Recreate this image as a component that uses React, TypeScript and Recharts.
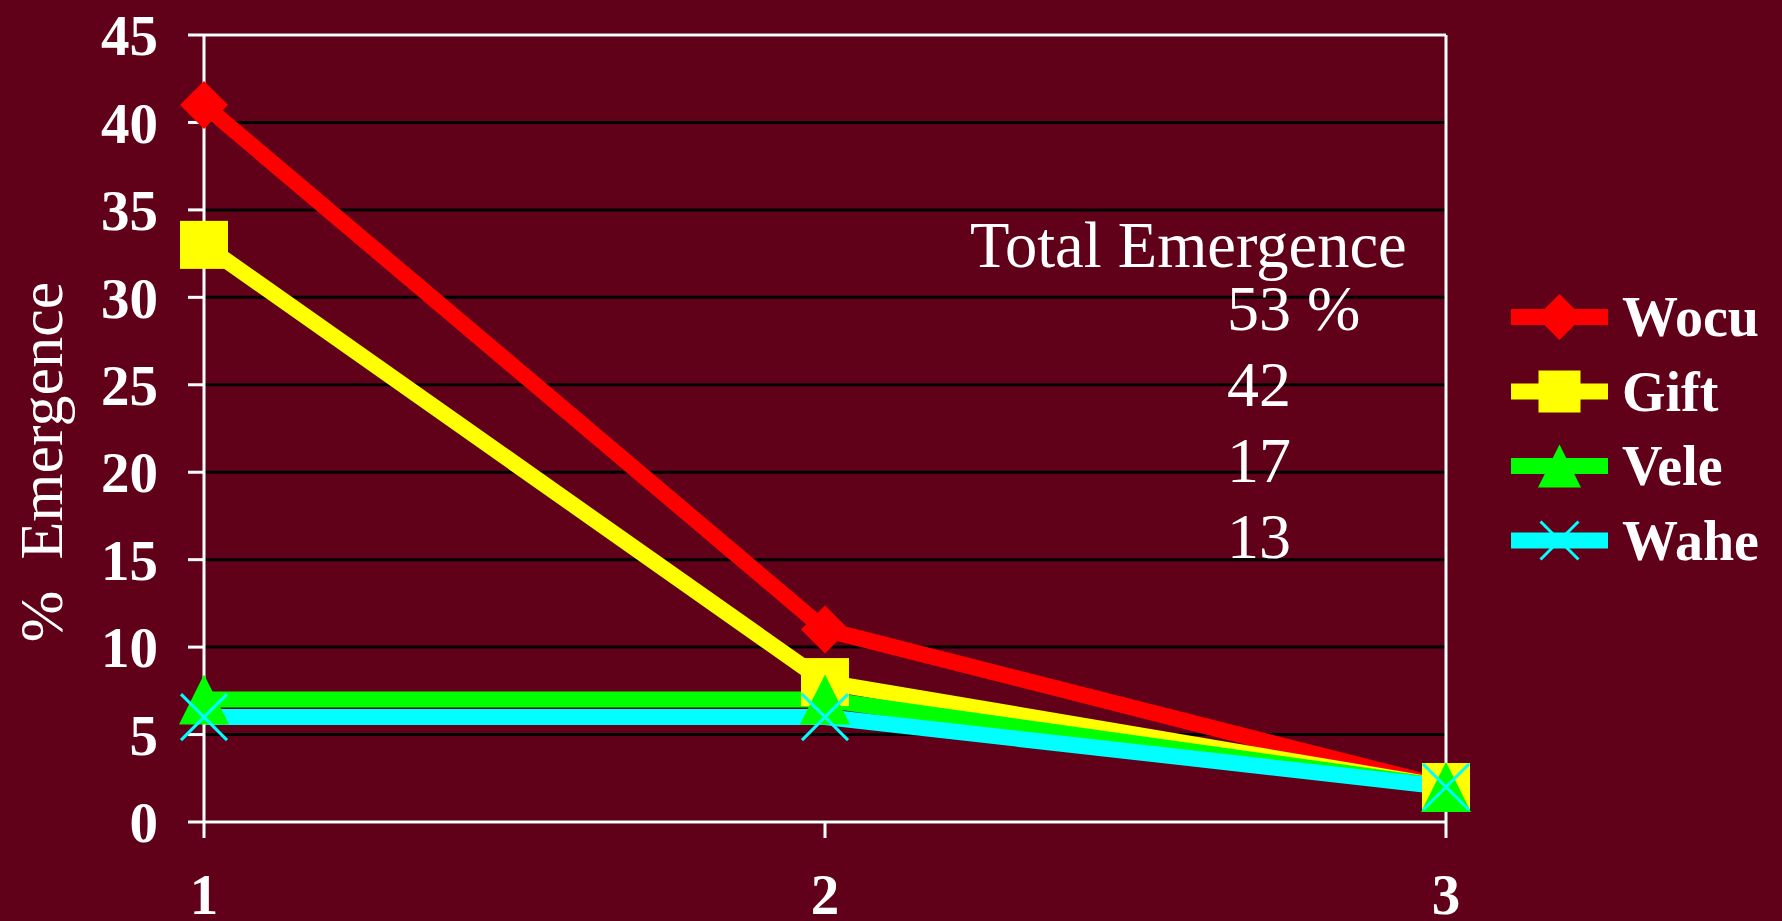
import React from 'react';
import {
  LineChart,
  Line,
  XAxis,
  YAxis,
  CartesianGrid,
  ReferenceLine,
  Legend,
  Customized,
} from 'recharts';

// Emergence per observation, by variety
const periods = ['1', '2', '3'];
const wocu = [41, 11, 2];
const gift = [33, 8, 2];
const vele = [7, 7, 2];
const wahe = [6, 6, 2];
const yTicks = [0, 5, 10, 15, 20, 25, 30, 35, 40, 45];
const totalTitle = 'Total Emergence';
const totals = ['53 %', '42', '17', '13'];
const yLabel = '%  Emergence';

const BG = '#600019';
const FONT = "'Liberation Serif', 'Times New Roman', serif";

type Shape = 'diamond' | 'square' | 'triangle' | 'cross';

const series: { key: string; color: string; shape: Shape; values: number[] }[] = [
  { key: 'Wocu', color: '#FF0000', shape: 'diamond', values: wocu },
  { key: 'Gift', color: '#FFFF00', shape: 'square', values: gift },
  { key: 'Vele', color: '#00FF00', shape: 'triangle', values: vele },
  { key: 'Wahe', color: '#00FFFF', shape: 'cross', values: wahe },
];

const data = periods.map((p, i) => {
  const row: Record<string, string | number> = { period: p };
  series.forEach((s) => {
    row[s.key] = s.values[i];
  });
  return row;
});

function Marker({
  shape,
  cx,
  cy,
  size,
  color,
}: {
  shape: Shape;
  cx: number;
  cy: number;
  size: number;
  color: string;
}) {
  const h = size / 2;
  switch (shape) {
    case 'diamond':
      return (
        <polygon
          points={`${cx},${cy - h} ${cx + h},${cy} ${cx},${cy + h} ${cx - h},${cy}`}
          fill={color}
        />
      );
    case 'square':
      return <rect x={cx - h} y={cy - h} width={size} height={size} fill={color} />;
    case 'triangle':
      return (
        <polygon
          points={`${cx},${cy - h} ${cx + h},${cy + h} ${cx - h},${cy + h}`}
          fill={color}
        />
      );
    default:
      return (
        <g stroke={color} strokeWidth={3}>
          <line x1={cx - h} y1={cy - h} x2={cx + h} y2={cy + h} />
          <line x1={cx - h} y1={cy + h} x2={cx + h} y2={cy - h} />
        </g>
      );
  }
}

const chartMarkerSize: Record<Shape, number> = {
  diamond: 48,
  square: 48,
  triangle: 50,
  cross: 46,
};

const legendMarkerSize: Record<Shape, number> = {
  diamond: 46,
  square: 42,
  triangle: 43,
  cross: 38,
};

function LegendContent(props: any) {
  const payload: any[] = [...(props.payload || [])];
  const order = series.map((s) => s.key);
  payload.sort((a, b) => order.indexOf(a.value) - order.indexOf(b.value));
  return (
    <svg width={282} height={310} style={{ display: 'block' }}>
      {payload.map((entry, i) => {
        const s = series.find((x) => x.key === entry.value) || series[i];
        const cy = 47 + i * 74.5;
        const color = entry.color || s.color;
        return (
          <g key={s.key}>
            <line x1={11} x2={108} y1={cy} y2={cy} stroke={color} strokeWidth={16} />
            <Marker shape={s.shape} cx={59.5} cy={cy} size={legendMarkerSize[s.shape]} color={color} />
            <text
              x={122}
              y={cy + 19}
              fill="#FFFFFF"
              fontFamily={FONT}
              fontWeight="bold"
              fontSize={56}
            >
              {entry.value}
            </text>
          </g>
        );
      })}
    </svg>
  );
}

function Annotations() {
  return (
    <g fontFamily={FONT} fill="#FFFFFF">
      <text
        x={62}
        y={462}
        fontSize={62}
        textAnchor="middle"
        transform="rotate(-90, 62, 462)"
        style={{ whiteSpace: 'pre' }}
      >
        {yLabel}
      </text>
      <text x={970} y={267} fontSize={64.5}>
        {totalTitle}
      </text>
      {totals.map((t, i) => (
        <text key={t} x={1227} y={330 + i * 76} fontSize={64} style={{ whiteSpace: 'pre' }}>
          {t}
        </text>
      ))}
    </g>
  );
}

export default function App() {
  return (
    <div
      style={{
        position: 'absolute',
        left: 0,
        top: 0,
        width: 1782,
        height: 921,
        background: BG,
      }}
    >
      <LineChart
        width={1782}
        height={921}
        data={data}
        margin={{ top: 35, left: 104, right: 336, bottom: 39 }}
      >
        <CartesianGrid vertical={false} stroke="#000000" strokeWidth={3} />
        <ReferenceLine y={45} stroke="#FFFFFF" strokeWidth={3} />
        <ReferenceLine x="3" stroke="#FFFFFF" strokeWidth={3} />
        <XAxis
          dataKey="period"
          height={60}
          stroke="#FFFFFF"
          strokeWidth={3}
          tickSize={16}
          tickMargin={36}
          tick={{ fill: '#FFFFFF', fontFamily: FONT, fontWeight: 'bold', fontSize: 57 }}
          tickLine={{ stroke: '#FFFFFF', strokeWidth: 3 }}
          interval={0}
        />
        <YAxis
          domain={[0, 45]}
          ticks={yTicks}
          width={100}
          stroke="#FFFFFF"
          strokeWidth={3}
          tickSize={16}
          tickMargin={30}
          tick={{ fill: '#FFFFFF', fontFamily: FONT, fontWeight: 'bold', fontSize: 57 }}
          tickLine={{ stroke: '#FFFFFF', strokeWidth: 3 }}
          allowDataOverflow
        />
        {series.map((s) => (
          <Line
            key={s.key}
            dataKey={s.key}
            name={s.key}
            stroke={s.color}
            strokeWidth={16}
            isAnimationActive={false}
            activeDot={false}
            dot={(p: any) => (
              <Marker
                key={`${s.key}-${p.index}`}
                shape={s.shape}
                cx={p.cx}
                cy={p.cy}
                size={chartMarkerSize[s.shape]}
                color={s.color}
              />
            )}
          />
        ))}
        <Legend
          layout="vertical"
          align="center"
          verticalAlign="middle"
          content={<LegendContent />}
          wrapperStyle={{ left: 1500, top: 270, width: 282, height: 310 }}
        />
        <Customized component={<Annotations />} />
      </LineChart>
    </div>
  );
}
